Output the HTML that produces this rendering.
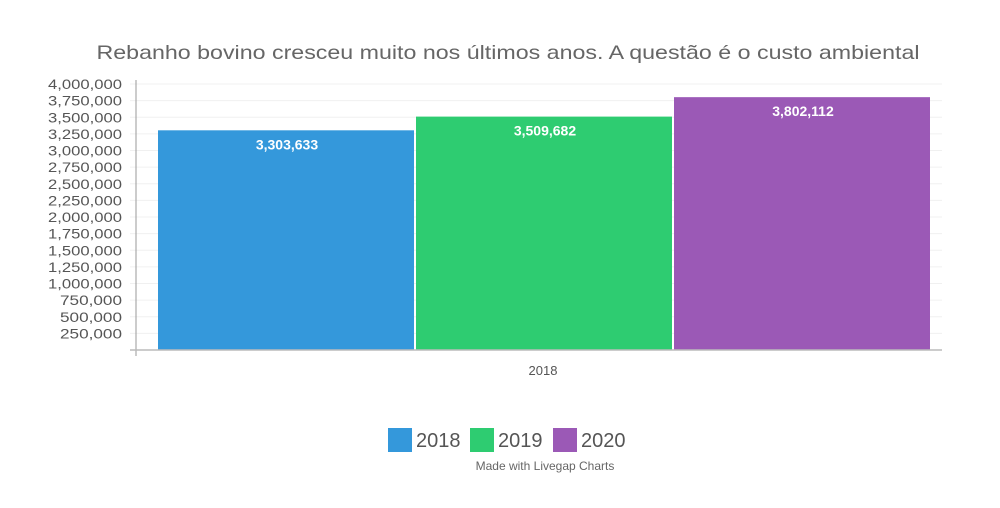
<!DOCTYPE html>
<html><head><meta charset="utf-8"><style>
body{margin:0;background:#fff;width:1000px;height:503px;overflow:hidden;font-family:"Liberation Sans",sans-serif;}
svg text{font-family:"Liberation Sans",sans-serif;}
</style></head><body>
<svg width="1000" height="503">
<text x="508" y="59" text-anchor="middle" font-size="19.5" fill="#666" textLength="823" lengthAdjust="spacingAndGlyphs">Rebanho bovino cresceu muito nos últimos anos. A questão é o custo ambiental</text>
<g id="yaxis"></g>
<g id="bars"></g>
<line x1="136" y1="80" x2="136" y2="356" stroke="#999" stroke-width="1"/>
<line x1="130" y1="350" x2="942" y2="350" stroke="#bbb" stroke-width="1.5"/>
<text x="543" y="375" text-anchor="middle" font-size="13" fill="#555">2018</text>
<g>
<rect x="388" y="428" width="24" height="24" fill="#3498db"/>
<text x="416" y="447" font-size="20" fill="#555">2018</text>
<rect x="470" y="428" width="24" height="24" fill="#2ecc71"/>
<text x="498" y="447" font-size="20" fill="#555">2019</text>
<rect x="553" y="428" width="24" height="24" fill="#9b59b6"/>
<text x="581" y="447" font-size="20" fill="#555">2020</text>
</g>
<text x="545" y="470" text-anchor="middle" font-size="12" fill="#666">Made with Livegap Charts</text>
</svg>
<script>
const series = ["2018","2019","2020"];
const values = [3303633, 3509682, 3802112];
const colors = ["#3498db","#2ecc71","#9b59b6"];
const ticks = [250000,500000,750000,1000000,1250000,1500000,1750000,2000000,2250000,2500000,2750000,3000000,3250000,3500000,3750000,4000000];
const NS="http://www.w3.org/2000/svg";
function y(v){return 350 - v/4000000*266;}
const barX0=158, barW=258;
function x(i){return barX0 + i*barW;}
const ya=document.getElementById('yaxis');
ticks.forEach(t=>{
  const tx=document.createElementNS(NS,'text');
  tx.setAttribute('x',122);tx.setAttribute('y',y(t)+5);
  tx.setAttribute('text-anchor','end');tx.setAttribute('font-size','13.5');
  tx.setAttribute('fill','#555');
  const s=t.toLocaleString('en-US');
  tx.setAttribute('textLength', s.length>8?'74':'62');
  tx.setAttribute('lengthAdjust','spacingAndGlyphs');
  tx.textContent=s;
  
  
  ya.appendChild(tx);
  const gl=document.createElementNS(NS,'line');
  gl.setAttribute('x1',130);gl.setAttribute('x2',942);gl.setAttribute('y1',y(t));gl.setAttribute('y2',y(t));
  gl.setAttribute('stroke','#f0f0f0');
  
  
  ya.appendChild(gl);
});
const bg=document.getElementById('bars');
values.forEach((v,i)=>{
  const r=document.createElementNS(NS,'rect');
  r.setAttribute('x',x(i));r.setAttribute('y',y(v));
  r.setAttribute('width',barW-2);r.setAttribute('height',350-y(v));
  r.setAttribute('fill',colors[i]);
  
  
  bg.appendChild(r);
  const t=document.createElementNS(NS,'text');
  t.setAttribute('x',x(i)+barW/2);t.setAttribute('y',y(v)+19);
  t.setAttribute('text-anchor','middle');t.setAttribute('font-size','14');t.setAttribute('font-weight','bold');
  t.setAttribute('fill','#fff');
  t.textContent=v.toLocaleString('en-US');
  
  
  bg.appendChild(t);
});
</script>
</body></html>
